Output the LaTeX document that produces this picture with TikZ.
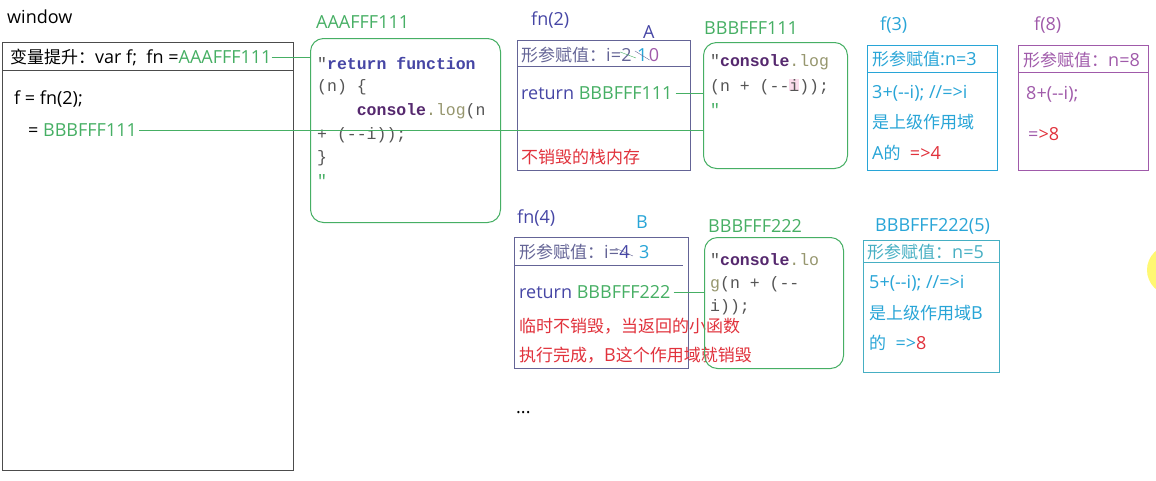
\documentclass[tikz,border=0pt]{standalone}
\usepackage{fontspec}
\setmainfont{Open Sans}
\newfontfamily\cjk{Noto Sans CJK SC}
\newfontfamily\codefont{Liberation Mono}
\usetikzlibrary{positioning, calc}

\definecolor{ptrgreen}{RGB}{70,175,100}
\definecolor{navy}{RGB}{70,70,165}
\definecolor{slate}{RGB}{100,100,150}
\definecolor{skyblue}{RGB}{40,165,215}
\definecolor{tealbox}{RGB}{70,175,195}
\definecolor{plum}{RGB}{160,90,170}
\definecolor{alert}{RGB}{225,50,60}
\definecolor{kwpurple}{RGB}{85,40,110}
\definecolor{logolive}{RGB}{150,150,110}
\definecolor{codegray}{RGB}{85,85,85}
\definecolor{hilite}{RGB}{250,220,235}

\newcommand{\zh}[1]{{\cjk\fontsize{17}{18}\selectfont #1}}
\newcommand{\kw}[1]{\textbf{\color{kwpurple}#1}}
\newcommand{\logpart}[1]{{\color{logolive}#1}}

\begin{document}
\begin{tikzpicture}[
    x=1pt, y=-1pt,
    every node/.style={font=\fontsize{18}{20}\selectfont, inner sep=0pt},
    txt/.style={anchor=west},
    code/.style={anchor=west, font=\codefont\fontsize{16.5}{18}\selectfont, text=codegray},
    frame/.style={draw=#1, line width=1pt, anchor=north west, rectangle},
    heap/.style={frame=ptrgreen, rounded corners=13pt},
    ptr/.style={draw=ptrgreen, line width=0.8pt}
]
\useasboundingbox[fill=white] (0,0) rectangle (1156,480);

% window
\node[txt] (winlbl) at (7,17) {window};
\node[frame=black!70, line width=1.4pt, minimum width=291pt, minimum height=428pt] (win) at (2,42) {};
\draw[black!70, line width=1pt] (win.west |- 0,70) -- (win.east |- 0,70);
\node[txt] (hdr) at (10,57) {\zh{变量提升：}var f;\ \ fn =\textcolor{ptrgreen}{AAAFFF111}};
\node[txt] (call) at (14,99) {f = fn(2);};
\node[txt] (ret1) at (28,130) {= \textcolor{ptrgreen}{BBBFFF111}};

% heap AAAFFF111
\node[txt, text=ptrgreen] (aaalbl) at (316,22) {AAAFFF111};
\node[heap, minimum width=190pt, minimum height=184pt] (aaa) at (310,38) {};
\node[code] (a1) at (317,63) {"\textbf{\color{navy}return function}};
\node[code] (a2) at (317,87) {(n) \{};
\node[code] (a3) at (317,111) {\ \ \ \ \kw{console}\logpart{.log}(n};
\node[code] (a4) at (317,135) {+ (-{}-i));};
\node[code] (a5) at (317,158) {\}};
\node[code, text=ptrgreen] (a6) at (317,181) {"};

% scope A : fn(2)
\node[txt, text=navy] (fn2lbl) at (531,20) {fn(2)};
\node[txt, text=navy] (scopeA) at (643,32) {A};
\node[frame=slate, minimum width=173pt, minimum height=130pt] (fn2) at (517,40) {};
\draw[slate, line width=1pt] (fn2.west |- 0,66) -- (fn2.east |- 0,66);
\node[txt, text=slate] (fn2arg) at (521,55) {\zh{形参赋值：}i=};
\node[txt, text=slate, right=0pt of fn2arg] (iA2) {2};
\node[txt, text=skyblue, right=5pt of iA2] (iA1) {1};
\node[txt, text=plum, right=1pt of iA1] (iA0) {0};
\draw[ptrgreen] ($(iA2.west)+(-1,-3)$) -- ($(iA2.east)+(4,3)$);
\draw[slate] ($(iA1.west)+(-2,-4)$) -- ($(iA1.east)+(2,5)$);
\node[txt] (fn2ret) at (521,93) {\textcolor{navy}{return} \textcolor{ptrgreen}{BBBFFF111}};
\node[txt, text=alert] (fn2note) at (521,157) {\zh{不销毁的栈内存}};

% heap BBBFFF111
\node[txt, text=ptrgreen] (bbb1lbl) at (704,28) {BBBFFF111};
\node[heap, minimum width=144pt, minimum height=126pt] (bbb1) at (703,42) {};
\node[code] (b1) at (710,62) {"\kw{console}\logpart{.log}};
\node[code] (b2) at (710,87) {(n + (-{}-{\setlength\fboxsep{0pt}\colorbox{hilite}{i}}));};
\node[code, text=ptrgreen] (b3) at (710,110) {"};

% f(3)
\node[txt, text=skyblue] (f3lbl) at (880,25) {f(3)};
\node[frame=skyblue, minimum width=130pt, minimum height=125pt] (f3) at (867,45) {};
\draw[skyblue, line width=1pt] (f3.west |- 0,72) -- (f3.east |- 0,72);
\node[txt, text=skyblue] (f3arg) at (872,59) {\zh{形参赋值}:n=3};
\node[txt, text=skyblue] (f3l1) at (872,93) {3+(-{}-i); //=>i};
\node[txt, text=skyblue] (f3l2) at (872,122) {\zh{是上级作用域}};
\node[txt, text=skyblue] (f3l3) at (872,153) {A\zh{的}\ \ \textcolor{alert}{=>4}};

% f(8)
\node[txt, text=plum] (f8lbl) at (1034,25) {f(8)};
\node[frame=plum, minimum width=130pt, minimum height=125pt] (f8) at (1018,45) {};
\draw[plum, line width=1pt] (f8.west |- 0,72) -- (f8.east |- 0,72);
\node[txt, text=plum] (f8arg) at (1023,60) {\zh{形参赋值：}n=8};
\node[txt, text=plum] (f8l1) at (1026,94) {8+(-{}-i);};
\node[txt, text=alert] (f8l2) at (1028,134) {\textcolor{plum}{=}>8};

% scope B : fn(4)
\node[txt, text=navy] (fn4lbl) at (517,218) {fn(4)};
\node[txt, text=skyblue] (scopeB) at (636,222) {B};
\node[frame=slate, minimum width=174pt, minimum height=131pt] (fn4) at (514,237) {};
\draw[slate, line width=1pt] (fn4.west |- 0,265) -- ($(fn4.east |- 0,265)+(-6,0)$);
\node[txt, text=slate] (fn4arg) at (519,252) {\zh{形参赋值：}i=};
\node[txt, text=navy, right=0pt of fn4arg] (iB4) {4};
\node[txt, text=skyblue, right=9pt of iB4] (iB3) {3};
\draw[slate] ($(iB4.west)+(-4,-4)$) -- ($(iB4.east)+(3,4)$);
\node[txt] (fn4ret) at (519,292) {\textcolor{navy}{return} \textcolor{ptrgreen}{BBBFFF222}};
\node[txt, text=alert] (fn4n1) at (519,326) {\zh{临时不销毁，当返回的小函数}};
\node[txt, text=alert] (fn4n2) at (519,355) {\zh{执行完成，}B\zh{这个作用域就销毁}};

% heap BBBFFF222
\node[txt, text=ptrgreen] (bbb2lbl) at (708,226) {BBBFFF222};
\node[heap, minimum width=139pt, minimum height=131pt] (bbb2) at (704,237) {};
\node[code] (c1) at (710,260) {"\kw{console}\logpart{.lo}};
\node[code] (c2) at (710,284) {\logpart{g}(n + (-{}-};
\node[code] (c3) at (710,307) {i));};

% BBBFFF222(5)
\node[txt, text=skyblue] (b5lbl) at (875,226) {BBBFFF222(5)};
\node[frame=tealbox, minimum width=136pt, minimum height=132pt] (b5) at (863,240) {};
\draw[tealbox, line width=1pt] (b5.west |- 0,262) -- (b5.east |- 0,262);
\node[txt, text=tealbox] (b5arg) at (867,252) {\zh{形参赋值：}n=5};
\node[txt, text=skyblue] (b5l1) at (869,283) {5+(-{}-i); //=>i};
\node[txt, text=skyblue] (b5l2) at (869,313) {\zh{是上级作用域}B};
\node[txt, text=skyblue] (b5l3) at (869,343) {\zh{的}\ \ =>\textcolor{alert}{8}};

\node[txt] (more) at (516,413) {...};

% pointers
\draw[ptr] (hdr.east) -- (hdr.east -| aaa.west);
\draw[ptr] ($(ret1.east)+(2,0)$) -- (ret1.east -| bbb1.west);
\draw[ptr] ($(fn2ret.east)+(3,0)$) -- (fn2ret.east -| bbb1.west);
\draw[ptr] ($(fn4ret.east)+(3,0)$) -- (fn4ret.east -| bbb2.west);

% cursor spot
\fill[yellow!55] (1172,270) circle (25);
\end{tikzpicture}
\end{document}
